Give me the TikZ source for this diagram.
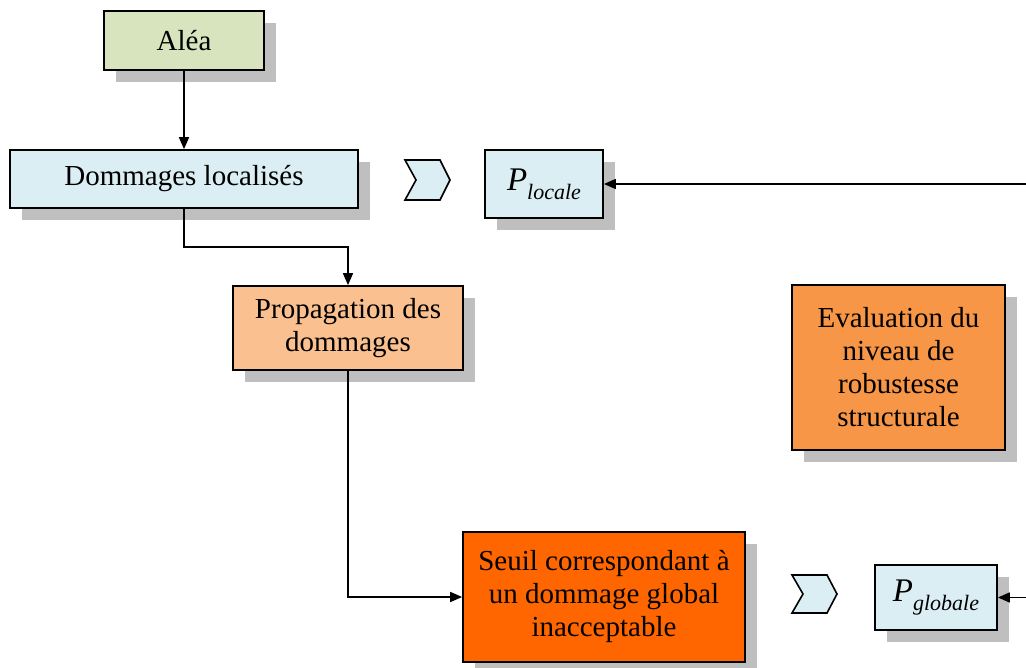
\documentclass[tikz,border=0pt]{standalone}
\usepackage{fontspec}
\setmainfont{Liberation Serif}
\usetikzlibrary{arrows.meta,shadows}
\definecolor{cgreen}{HTML}{D7E4BD}
\definecolor{cblue}{HTML}{DBEEF4}
\definecolor{corangelt}{HTML}{FAC090}
\definecolor{corange}{HTML}{F79646}
\definecolor{cred}{HTML}{FF6600}
\definecolor{cshadow}{HTML}{BFBFBF}
\newcommand{\Psub}[1]{{\fontsize{33}{35}\selectfont\itshape P\raisebox{-0.28em}{\fontsize{22}{24}\selectfont #1}}}
\tikzset{
  box/.style={draw=black, line width=1.7pt, rectangle, align=center, inner sep=0pt,
    font=\fontsize{29}{33}\selectfont,
    general shadow={shadow xshift=12pt, shadow yshift=-12pt, fill=cshadow, opacity=1}},
  chev/.style={draw=black, line width=1.6pt, fill=cblue, line join=miter},
  conn/.style={line width=1.6pt, -{Triangle[length=12pt,width=10pt]}},
}
\begin{document}
\begin{tikzpicture}[x=1pt,y=-1pt]
\useasboundingbox (0,0) rectangle (1026,668);
\node[box, fill=cgreen, minimum width=160pt, minimum height=59pt] (alea) at (184,40.5) {Aléa};
\node[box, fill=cblue, minimum width=348pt, minimum height=58pt] (dom) at (184,179) {Dommages localisés};
\node[box, fill=cblue, minimum width=118pt, minimum height=68pt] (ploc) at (544,184) {\Psub{locale}};
\node[box, fill=corangelt, minimum width=230pt, minimum height=84pt] (prop) at (348,328) {Propagation des\\dommages};
\node[box, fill=corange, minimum width=213pt, minimum height=165pt] (eval) at (898.5,367.5) {Evaluation du\\niveau de\\robustesse\\structurale};
\node[box, fill=cred, minimum width=282pt, minimum height=130pt] (seuil) at (604,597) {Seuil correspondant à\\un dommage global\\inacceptable};
\node[box, fill=cblue, minimum width=122pt, minimum height=65pt] (pglob) at (936,597.5) {\Psub{globale}};
\draw[chev] (405,160) -- (440,160) -- (450,180) -- (440,200) -- (405,200) -- (416,180) -- cycle;
\draw[chev] (792,575) -- (827,575) -- (837,594) -- (827,613) -- (792,613) -- (803,594) -- cycle;
\coordinate (inA) at (1026,184);
\coordinate (inB) at (1026,597.5);
\draw[conn] (alea.south) -- (dom.north);
\draw[conn] (dom.south) |- (348,247) -- (prop.north);
\draw[conn] (prop.south) |- (seuil.west);
\draw[conn] (inA) -- (ploc.east);
\draw[conn] (inB) -- (pglob.east);
\end{tikzpicture}
\end{document}
